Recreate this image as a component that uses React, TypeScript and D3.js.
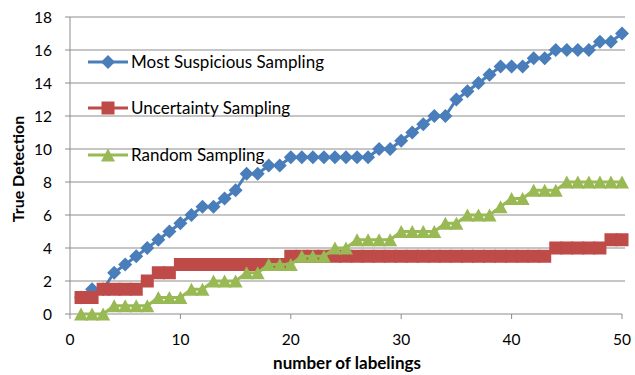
import React from "react";
import * as d3 from "d3";

const xValues: number[] = d3.range(1, 51);
const mostSuspicious: number[] = [
  1, 1.5, 1.5, 2.5, 3, 3.5, 4, 4.5, 5, 5.5,
  6, 6.5, 6.5, 7, 7.5, 8.5, 8.5, 9, 9, 9.5,
  9.5, 9.5, 9.5, 9.5, 9.5, 9.5, 9.5, 10, 10, 10.5,
  11, 11.5, 12, 12, 13, 13.5, 14, 14.5, 15, 15,
  15, 15.5, 15.5, 16, 16, 16, 16, 16.5, 16.5, 17,
];
const uncertainty: number[] = [
  1, 1, 1.5, 1.5, 1.5, 1.5, 2, 2.5, 2.5, 3,
  3, 3, 3, 3, 3, 3, 3, 3, 3, 3.5,
  3.5, 3.5, 3.5, 3.5, 3.5, 3.5, 3.5, 3.5, 3.5, 3.5,
  3.5, 3.5, 3.5, 3.5, 3.5, 3.5, 3.5, 3.5, 3.5, 3.5,
  3.5, 3.5, 3.5, 4, 4, 4, 4, 4, 4.5, 4.5,
];
const randomSampling: number[] = [
  0, 0, 0, 0.5, 0.5, 0.5, 0.5, 1, 1, 1,
  1.5, 1.5, 2, 2, 2, 2.5, 2.5, 3, 3, 3,
  3.5, 3.5, 3.5, 4, 4, 4.5, 4.5, 4.5, 4.5, 5,
  5, 5, 5, 5.5, 5.5, 6, 6, 6, 6.5, 7,
  7, 7.5, 7.5, 7.5, 8, 8, 8, 8, 8, 8,
];
const seriesNames: string[] = ["Most Suspicious Sampling", "Uncertainty Sampling", "Random Sampling"];
const seriesColors: string[] = ["#4A7EBB", "#BE4B48", "#98B954"];
const xTicks: number[] = [0, 10, 20, 30, 40, 50];
const yTicks: number[] = [0, 2, 4, 6, 8, 10, 12, 14, 16, 18];

const FONT = "Lato, 'Open Sans', sans-serif";

function Marker({ kind, x, y, color }: { kind: number; x: number; y: number; color: string }) {
  if (kind === 0) {
    const s = 7;
    return <path d={`M${x},${y - s}L${x + s},${y}L${x},${y + s}L${x - s},${y}Z`} fill={color} />;
  }
  if (kind === 1) {
    const s = 6.5;
    return <rect x={x - s} y={y - s} width={2 * s} height={2 * s} fill={color} />;
  }
  const w = 7, h = 6.5;
  return <path d={`M${x},${y - h}L${x + w},${y + h}L${x - w},${y + h}Z`} fill={color} />;
}

export default function App() {
  const width = 635, height = 375;
  const x = d3.scaleLinear().domain([0, 50]).range([70, 622]);
  const y = d3.scaleLinear().domain([0, 18]).range([314, 17]);
  const series = [mostSuspicious, uncertainty, randomSampling];
  const line = d3.line<number>().x((_, i) => x(xValues[i])).y((d) => y(d));
  const legendY = [62, 108, 155];
  const gridColor = "#8C8C8C";

  return (
    <svg width={width} height={height} style={{ position: "absolute", left: 0, top: 0, background: "#fff" }}>
      {yTicks.map((t) => (
        <g key={"y" + t}>
          {t > 0 && <line x1={x(0)} x2={x(50) + 3} y1={y(t)} y2={y(t)} stroke={gridColor} strokeWidth={1} />}
          <line x1={x(0) - 5} x2={x(0)} y1={y(t)} y2={y(t)} stroke={gridColor} strokeWidth={1} />
          <text x={x(0) - 18} y={y(t)} dy="0.36em" textAnchor="end" fontFamily={FONT} fontSize={15.5} fill="#000">{t}</text>
        </g>
      ))}
      <line x1={x(0)} x2={x(0)} y1={y(18)} y2={y(0)} stroke={gridColor} strokeWidth={1} />
      <line x1={x(0)} x2={x(50)} y1={y(0)} y2={y(0)} stroke={gridColor} strokeWidth={1} />
      {xTicks.map((t) => (
        <g key={"x" + t}>
          <line x1={x(t)} x2={x(t)} y1={y(0)} y2={y(0) + 5} stroke={gridColor} strokeWidth={1} />
          <text x={x(t)} y={y(0) + 31} textAnchor="middle" fontFamily={FONT} fontSize={15.5} fill="#000">{t}</text>
        </g>
      ))}
      {series.map((s, k) => (
        <g key={"s" + k}>
          <path d={line(s) || ""} fill="none" stroke={seriesColors[k]} strokeWidth={3} />
          {s.map((v, i) => (
            <Marker key={i} kind={k} x={x(xValues[i])} y={y(v)} color={seriesColors[k]} />
          ))}
        </g>
      ))}
      {seriesNames.map((n, k) => (
        <g key={"l" + k}>
          <line x1={88} x2={128} y1={legendY[k]} y2={legendY[k]} stroke={seriesColors[k]} strokeWidth={3} />
          <Marker kind={k} x={108} y={legendY[k]} color={seriesColors[k]} />
          <text x={131} y={legendY[k]} dy="0.35em" fontFamily={FONT} fontSize={17} fill="#000">{n}</text>
        </g>
      ))}
      <text transform={`translate(24,169) rotate(-90)`} textAnchor="middle" fontFamily={FONT} fontSize={16} fontWeight="bold" fill="#000">True Detection</text>
      <text x={(x(0) + x(50)) / 2 + 1} y={369} textAnchor="middle" fontFamily={FONT} fontSize={17} fontWeight="bold" fill="#000">number of labelings</text>
    </svg>
  );
}
